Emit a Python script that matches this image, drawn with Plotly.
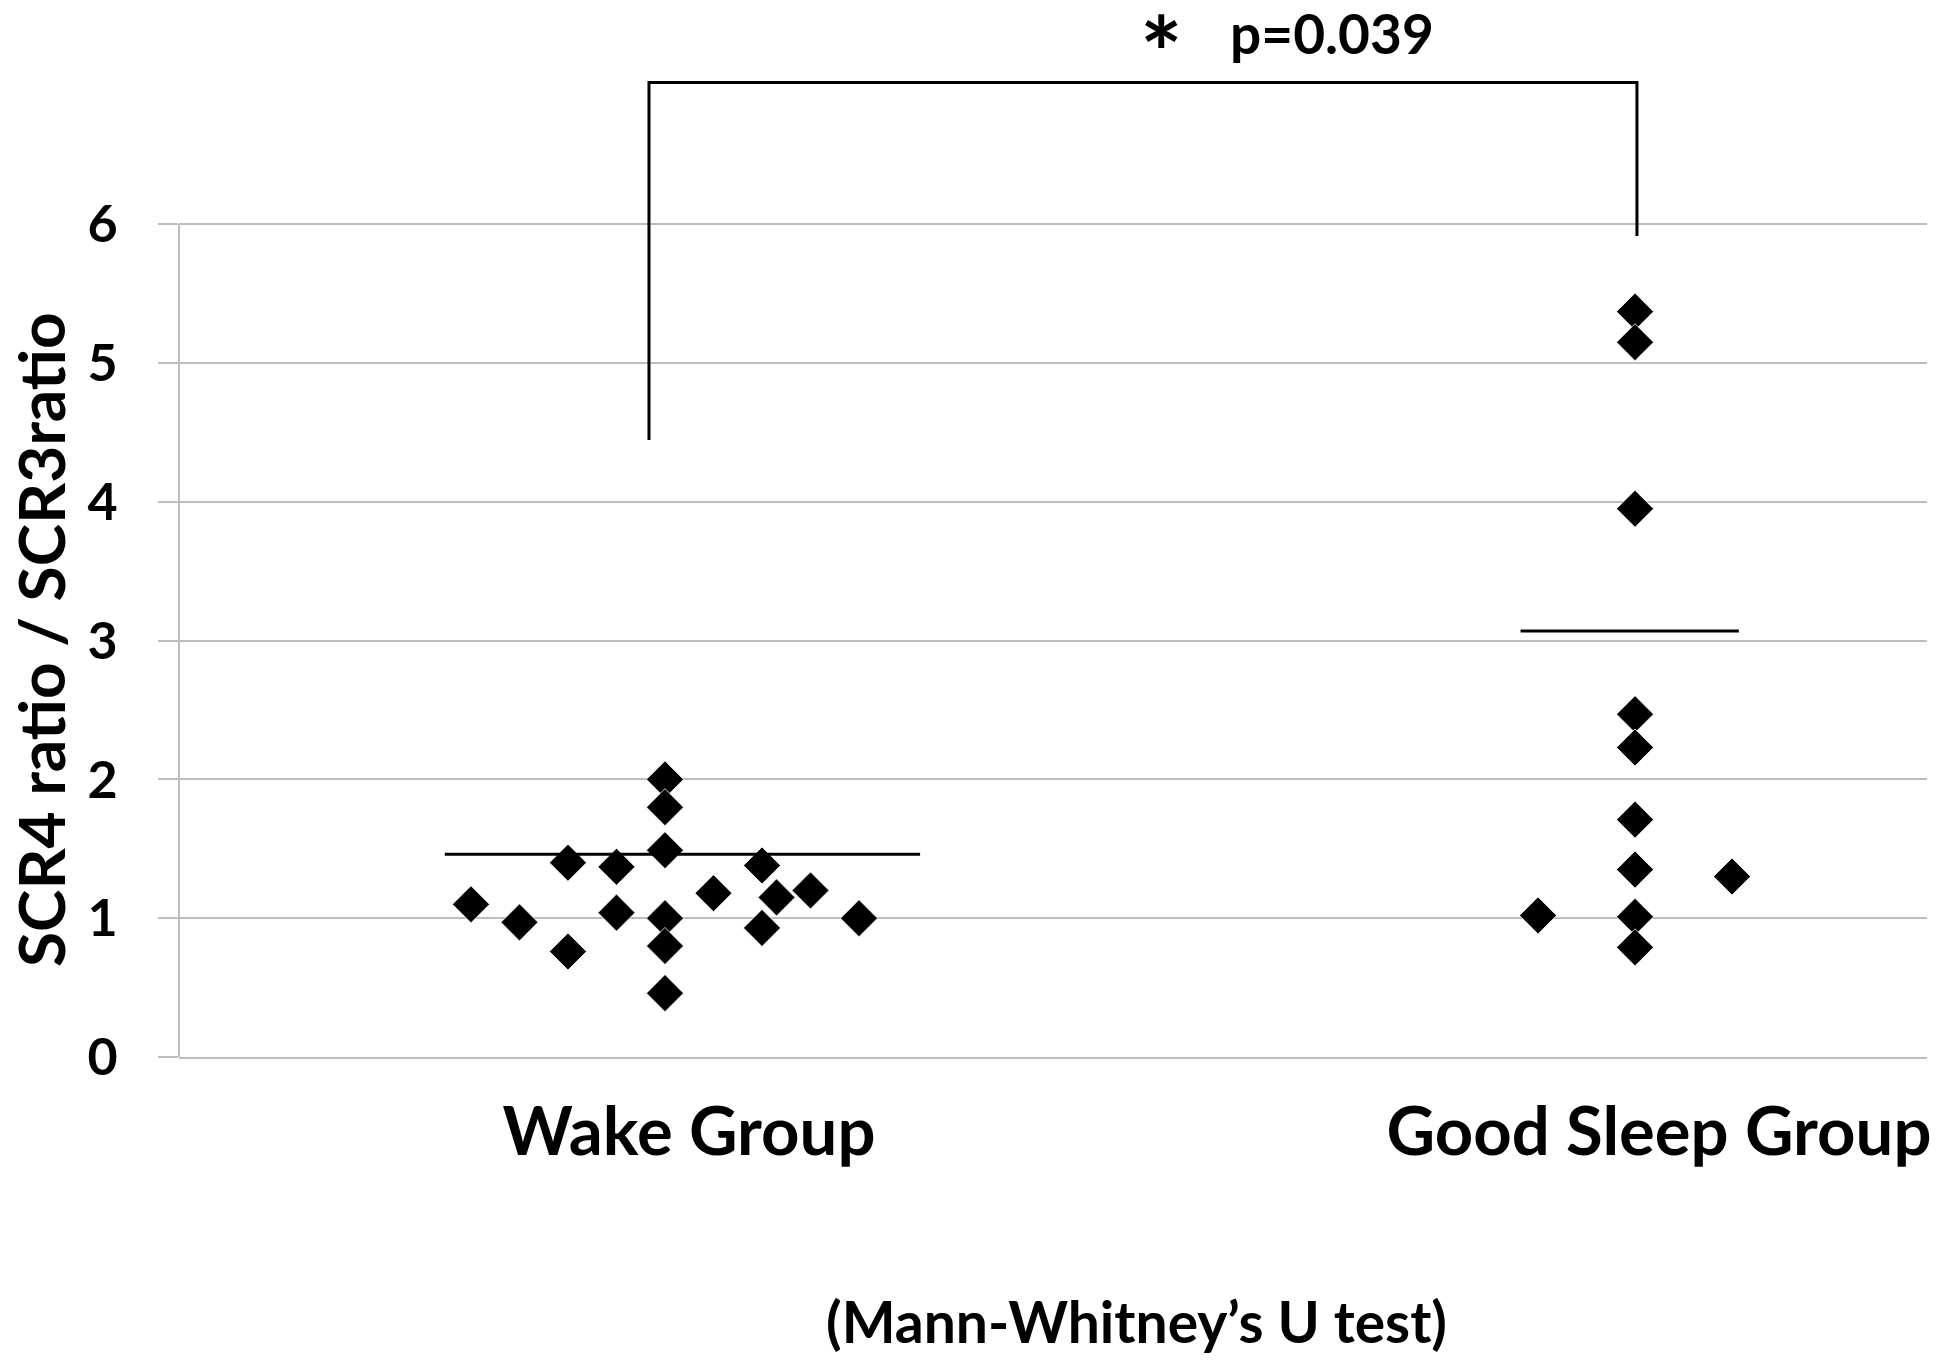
import plotly.graph_objects as go

# ---- data ----
categories = ["Wake Group", "Good Sleep Group"]
y_ticks = [0, 1, 2, 3, 4, 5, 6]

wake_offsets = [-0.2, -0.15, -0.1, -0.1, -0.05, -0.05, 0, 0, 0, 0, 0, 0,
                0.05, 0.1, 0.1, 0.115, 0.15, 0.2]
wake_values = [1.10, 0.97, 1.40, 0.76, 1.37, 1.04, 2.00, 1.80, 1.49, 1.00,
               0.80, 0.46, 1.18, 1.38, 0.93, 1.15, 1.20, 1.00]

sleep_offsets = [0, 0, 0, 0, 0, 0, 0, 0, 0, -0.1, 0.1]
sleep_values = [5.37, 5.15, 3.95, 2.47, 2.23, 1.71, 1.35, 1.01, 0.79, 1.02, 1.30]

group_lines = [1.46, 3.07]          # horizontal summary lines
bracket_left_bottom = 4.445
bracket_right_bottom = 5.915
bracket_top = 7.02
p_text = "p=0.039"
test_text = "(Mann-Whitney\u2019s U test)"
y_title = "SCR4 ratio / SCR3ratio"

FONT = "Lato"
GRID = "#bdbdbd"

fig = go.Figure()

fig.add_trace(go.Scatter(
    x=[0 + o for o in wake_offsets], y=wake_values, mode="markers",
    marker=dict(symbol="diamond", size=28.5, color="black",
                line=dict(color="white", width=0.8)),
    showlegend=False, hoverinfo="y"))
fig.add_trace(go.Scatter(
    x=[1 + o for o in sleep_offsets], y=sleep_values, mode="markers",
    marker=dict(symbol="diamond", size=28.5, color="black",
                line=dict(color="white", width=0.8)),
    showlegend=False, hoverinfo="y"))

# summary lines
fig.add_trace(go.Scatter(x=[-0.227, 0.263], y=[group_lines[0]] * 2, mode="lines",
                         line=dict(color="black", width=3), showlegend=False,
                         hoverinfo="skip"))
fig.add_trace(go.Scatter(x=[1 - 0.118, 1 + 0.107], y=[group_lines[1]] * 2, mode="lines",
                         line=dict(color="black", width=3), showlegend=False,
                         hoverinfo="skip"))

# significance bracket
fig.add_trace(go.Scatter(
    x=[-0.0165, -0.0165, 1.002, 1.002],
    y=[bracket_left_bottom, bracket_top, bracket_top, bracket_right_bottom],
    mode="lines", line=dict(color="black", width=3), showlegend=False,
    hoverinfo="skip", cliponaxis=False))

# y axis line (only 0..6)
fig.add_shape(type="line", xref="paper", yref="y", x0=0, x1=0, y0=0, y1=6,
              line=dict(color=GRID, width=2))

fig.update_layout(
    width=1944, height=1361,
    margin=dict(l=171, r=25, t=8, b=312),
    paper_bgcolor="white", plot_bgcolor="white",
    font=dict(family=FONT, color="black", weight="bold"),
    xaxis=dict(range=[-0.501, 1.301], tickvals=[0, 1], ticktext=categories,
               tickfont=dict(size=67, family=FONT, weight="bold"),
               ticklabelshift=24, ticklabelstandoff=16,
               showgrid=False, zeroline=False, showline=True,
               linecolor=GRID, linewidth=2, ticks=""),
    yaxis=dict(range=[0, 7.5], tickvals=y_ticks, ticktext=[str(v) for v in y_ticks],
               tickfont=dict(size=52, family=FONT, weight="bold"),
               showgrid=True, gridcolor=GRID, gridwidth=2,
               zeroline=False, showline=False,
               ticks="outside", ticklen=20, tickcolor=GRID, tickwidth=2,
               ticklabelstandoff=30),
)

fig.add_annotation(text=y_title, xref="paper", yref="paper",
                   x=-0.0789, y=0.4006, xanchor="center", yanchor="middle",
                   textangle=-90, showarrow=False,
                   font=dict(size=64, family=FONT, weight="bold"))
fig.add_annotation(text="*", xref="x", yref="y", x=0.512, y=7.25,
                   xanchor="center", yanchor="middle", showarrow=False,
                   font=dict(size=100, family=FONT, weight="bold"))
fig.add_annotation(text=p_text, xref="x", yref="y", x=0.688, y=7.38,
                   xanchor="center", yanchor="middle", showarrow=False,
                   font=dict(size=55, family=FONT, weight="bold"))
fig.add_annotation(text=test_text, xref="paper", yref="paper",
                   x=0.5475, y=-0.2536, xanchor="center", yanchor="middle",
                   showarrow=False, font=dict(size=57, family=FONT, weight="bold"))

fig.write_html("out.html")
